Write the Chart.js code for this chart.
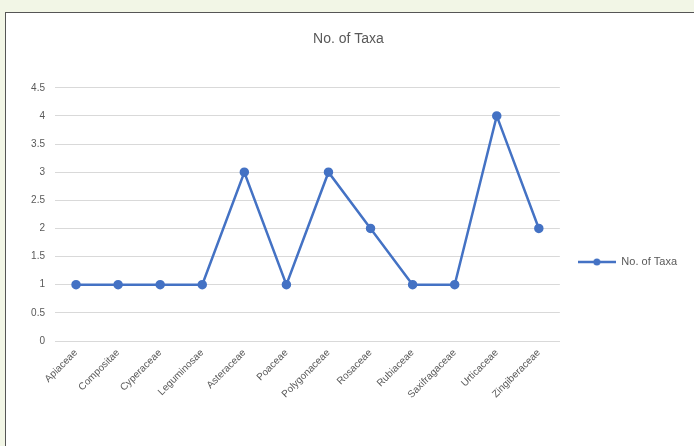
<!DOCTYPE html>
<html>
<head>
<meta charset="utf-8">
<script src="https://cdn.jsdelivr.net/npm/chart.js@4"></script>
<style>
  body { margin: 0; background: #f2f6e6; width: 694px; height: 446px; overflow: hidden; }
  #box {
    position: absolute; left: 5px; top: 12px; width: 689px; height: 434px;
    background: #fff; border-top: 1px solid #555; border-left: 1px solid #555;
  }
</style>
</head>
<body>
<div id="box"><canvas id="chart" width="689" height="434"></canvas></div>
<script>
// data
const families = ["Apiaceae", "Compositae", "Cyperaceae", "Leguminosae", "Asteraceae", "Poaceae",
                  "Polygonaceae", "Rosaceae", "Rubiaceae", "Saxifragaceae", "Urticaceae", "Zingiberaceae"];
const taxaCount = [1, 1, 1, 1, 3, 1, 3, 2, 1, 1, 4, 2];
const seriesName = "No. of Taxa";
const yMax = 4.5;
const yStep = 0.5;

const blue = "#4472c4";

// legend marker: short line with a dot in the middle, like Excel
const marker = document.createElement("canvas");
marker.width = 38; marker.height = 10;
const mc = marker.getContext("2d");
mc.strokeStyle = blue; mc.lineWidth = 2.5;
mc.beginPath(); mc.moveTo(0, 5); mc.lineTo(38, 5); mc.stroke();
mc.fillStyle = blue;
mc.beginPath(); mc.arc(19, 5, 3.5, 0, Math.PI * 2); mc.fill();

new Chart(document.getElementById("chart"), {
    type: "line",
    data: {
        labels: families,
        datasets: [{
            label: seriesName,
            data: taxaCount,
            borderColor: blue,
            backgroundColor: blue,
            borderWidth: 2.5,
            pointRadius: 3.5,
            pointBackgroundColor: blue,
            pointBorderColor: blue,
            tension: 0
        }]
    },
    options: {
        responsive: false,
        animation: false,
        layout: { padding: { left: 4, right: 8, top: 0, bottom: 0 } },
        plugins: {
            title: {
                display: true,
                text: seriesName,
                color: "#595959",
                font: { family: "Liberation Sans, Arial", size: 14, weight: "normal" },
                padding: { top: 18, bottom: 40 }
            },
            legend: {
                position: "right",
                title: {
                    display: true,
                    text: " ",
                    font: { size: 10 },
                    padding: { top: 0, bottom: 52 }
                },
                labels: {
                    usePointStyle: true,
                    pointStyle: marker,
                    pointStyleWidth: 38,
                    color: "#595959",
                    font: { family: "Liberation Sans, Arial", size: 11 },
                    padding: 18
                }
            },
            tooltip: { enabled: false }
        },
        scales: {
            x: {
                offset: true,
                grid: { display: false, drawTicks: false },
                border: { color: "#d9d9d9" },
                ticks: {
                    color: "#595959",
                    font: { family: "Liberation Sans, Arial", size: 10 },
                    minRotation: 45,
                    maxRotation: 45,
                    padding: 6
                },
                afterFit: s => { s.height = 106; }
            },
            y: {
                min: 0,
                max: yMax,
                grid: { color: "#d9d9d9", drawTicks: false },
                border: { display: false },
                ticks: {
                    stepSize: yStep,
                    color: "#595959",
                    font: { family: "Liberation Sans, Arial", size: 10 },
                    padding: 10,
                    callback: v => String(v)
                },
                afterFit: s => { s.width = 45; }
            }
        }
    }
});
</script>
</body>
</html>
